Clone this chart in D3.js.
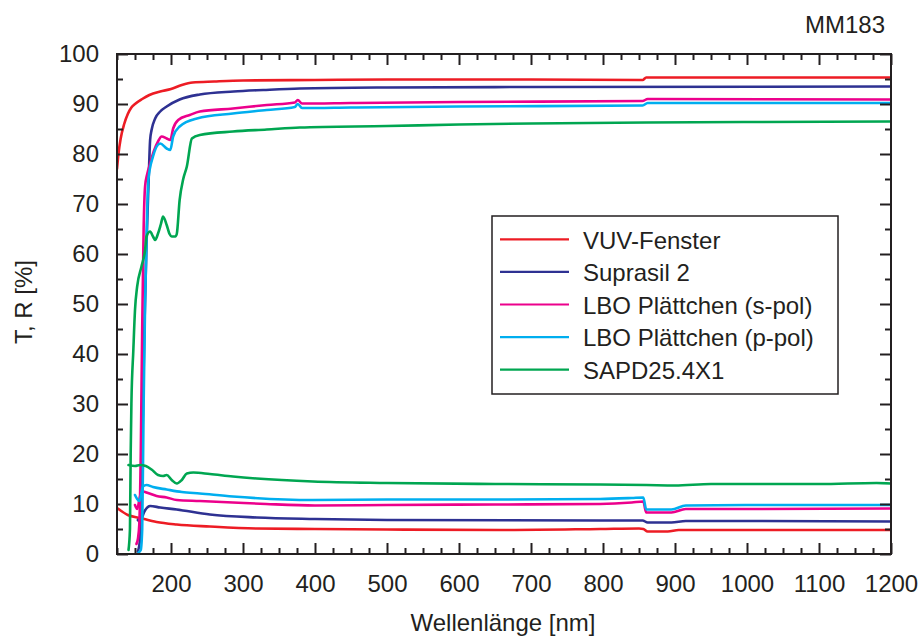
<!DOCTYPE html>
<html>
<head>
<meta charset="utf-8">
<script src="https://cdn.jsdelivr.net/npm/d3@7"></script>
<style>
  html, body { margin: 0; padding: 0; background: #fff; }
  svg { display: block; }
  text { font-family: "Liberation Sans", Arial, Helvetica, sans-serif; fill: #231f20; }
</style>
</head>
<body>
<svg id="chart" width="918" height="636"></svg>
<script>
// Spectral transmission (upper curves) and reflection (lower curves), wavelength in nm, value in %
const vuvT = [[125,77],[127,80],[130,83],[135,86],[140,88],[145,89.3],[150,90],[160,91],[170,91.8],[185,92.5],[200,93],[215,93.8],[230,94.3],[260,94.5],[300,94.7],[400,94.8],[500,94.9],[700,94.9],[855,94.8],[860,95.3],[1000,95.3],[1200,95.3]];
const vuvR = [[125,9.2],[140,7.8],[157,7.2],[180,6.4],[208,5.9],[254,5.5],[319,5.1],[400,5.0],[500,4.9],[657,4.8],[796,5.0],[850,5.1],[856,5.0],[862,4.5],[890,4.5],[905,4.8],[1000,4.8],[1200,4.8]];

const suprasilT = [[154,0.5],[157,3],[160,20],[163,45],[166,62],[169,75],[171,82.8],[173,84.8],[178,87.1],[185,88.5],[194,89.5],[212,90.9],[240,91.9],[287,92.5],[328,92.8],[379,93.1],[500,93.3],[700,93.4],[1200,93.5]];
const suprasilR = [[154,6.8],[157,6.5],[163,8.5],[171,9.6],[185,9.3],[208,8.9],[254,7.9],[319,7.3],[400,7.0],[500,6.8],[796,6.7],[855,6.7],[862,6.3],[895,6.3],[915,6.6],[1000,6.6],[1200,6.5]];

const lboST = [[152,2],[154,3],[156,6],[158,20],[160,45],[162,65],[164,73.5],[167,76],[171,78.1],[176,80.5],[182,82.5],[187,83.5],[194,83.1],[199,82.8],[203,85.1],[210,86.8],[226,87.8],[240,88.5],[286,89.1],[333,89.8],[372,90.3],[376,90.8],[382,90.1],[450,90.2],[600,90.4],[855,90.6],[862,91.0],[1200,90.9]];
const lboSR = [[150,9.8],[153,9.0],[157,11.5],[161,12.5],[168,12.2],[180,11.6],[194,11.3],[208,10.8],[240,10.6],[286,10.3],[332,10.0],[400,9.7],[500,9.8],[650,9.9],[796,10.0],[840,10.3],[856,10.5],[860,8.3],[895,8.3],[915,9.0],[1000,9.0],[1200,9.1]];

const lboPT = [[155,0.3],[158,0.8],[160,5],[162,30],[164,50],[166,63],[168.5,74.8],[175,79.5],[185,82.1],[194,81.1],[199,80.8],[203,83.5],[212,85.5],[236,87.1],[286,88.1],[333,88.8],[372,89.4],[376,90.0],[382,89.2],[450,89.3],[600,89.5],[855,89.7],[862,90.2],[1200,90.2]];
const lboPR = [[150,11.8],[153,11],[156,10.6],[158,11.5],[161,13.5],[166,13.8],[175,13.4],[194,12.9],[215,12.4],[240,12.1],[286,11.5],[397,10.8],[500,10.9],[650,10.9],[796,11.0],[840,11.2],[856,11.3],[860,8.9],[895,8.9],[915,9.7],[1000,9.8],[1200,9.8]];

const sapdT = [[141,0.8],[143,5],[144,20],[145,30],[147.7,40.8],[150,48.8],[153,53.5],[159,57.5],[164,60.8],[166,63.5],[171,64.5],[175,63.5],[178,62.8],[182,64.1],[186,66],[189,67.5],[194,65.8],[198,64],[201,63.5],[206,63.5],[208,64],[212,70.8],[217,75],[222,77.5],[229,83.1],[240,83.8],[286,84.5],[333,84.9],[379,85.3],[500,85.6],[600,85.9],[700,86.1],[860,86.3],[1000,86.4],[1200,86.5]];
const sapdR = [[141,17.8],[150,17.6],[157,17.8],[165,17.6],[173,16.9],[182,15.8],[189,15.6],[194,15.8],[201,14.8],[208,14.1],[215,14.8],[222,16.1],[231,16.3],[254,16.0],[286,15.5],[319,15.1],[397,14.5],[500,14.2],[650,14.0],[796,13.9],[860,13.8],[900,13.7],[950,14.0],[1100,14.0],[1180,14.2],[1200,14.1]];

const seriesNames = ["VUV-Fenster", "Suprasil 2", "LBO Plättchen (s-pol)", "LBO Plättchen (p-pol)", "SAPD25.4X1"];
const seriesCurves = [[vuvT, vuvR], [suprasilT, suprasilR], [lboST, lboSR], [lboPT, lboPR], [sapdT, sapdR]];

const xTickValues = [200, 300, 400, 500, 600, 700, 800, 900, 1000, 1100, 1200];
const yTickValues = [0, 10, 20, 30, 40, 50, 60, 70, 80, 90, 100];
const xMinorValues = d3.range(125, 1201, 25).filter(v => v % 100 !== 0);
const yMinorValues = d3.range(5, 100, 10);

const colors = ["#ed1c24", "#2e3192", "#ec008c", "#00aeef", "#00a651"];
const ink = "#231f20";

const svg = d3.select("#chart");
const plotLeft = 117, plotRight = 891, plotTop = 54, plotBottom = 554;

const x = d3.scaleLinear().domain([125, 1200]).range([plotLeft, plotRight]);
const y = d3.scaleLinear().domain([0, 100]).range([plotBottom, plotTop]);

svg.append("defs").append("clipPath").attr("id", "plotClip")
  .append("rect").attr("x", plotLeft).attr("y", plotTop)
  .attr("width", plotRight - plotLeft).attr("height", plotBottom - plotTop);

// Curves
const line = d3.line().x(d => x(d[0])).y(d => y(d[1])).curve(d3.curveMonotoneX);
const plot = svg.append("g").attr("clip-path", "url(#plotClip)");
seriesCurves.forEach((curves, i) => {
  curves.forEach(c => {
    plot.append("path")
      .attr("d", line(c))
      .attr("fill", "none")
      .attr("stroke", colors[i])
      .attr("stroke-width", 2.6)
      .attr("stroke-linejoin", "round")
      .attr("stroke-linecap", "round");
  });
});

// Axes with inward ticks on all four sides
function styleAxis(g) {
  g.select(".domain").remove();
  g.selectAll(".tick line").attr("stroke", ink).attr("stroke-width", 2);
  g.selectAll("text").attr("font-size", 24).attr("fill", ink)
    .style("font-family", '"Liberation Sans", Arial, Helvetica, sans-serif');
}

svg.append("g").attr("transform", `translate(0,${plotBottom})`)
  .call(d3.axisBottom(x).tickValues(xTickValues).tickSize(-11).tickPadding(21).tickFormat(d3.format("d")))
  .call(styleAxis);
svg.append("g").attr("transform", `translate(0,${plotBottom})`)
  .call(d3.axisBottom(x).tickValues(xMinorValues).tickSize(-6).tickFormat(""))
  .call(styleAxis);
svg.append("g").attr("transform", `translate(0,${plotTop})`)
  .call(d3.axisTop(x).tickValues(xTickValues).tickSize(-11).tickFormat(""))
  .call(styleAxis);
svg.append("g").attr("transform", `translate(0,${plotTop})`)
  .call(d3.axisTop(x).tickValues(xMinorValues).tickSize(-6).tickFormat(""))
  .call(styleAxis);

svg.append("g").attr("transform", `translate(${plotLeft},0)`)
  .call(d3.axisLeft(y).tickValues(yTickValues).tickSize(-11).tickPadding(18).tickFormat(d3.format("d")))
  .call(styleAxis);
svg.append("g").attr("transform", `translate(${plotLeft},0)`)
  .call(d3.axisLeft(y).tickValues(yMinorValues).tickSize(-6).tickFormat(""))
  .call(styleAxis);
svg.append("g").attr("transform", `translate(${plotRight},0)`)
  .call(d3.axisRight(y).tickValues(yTickValues).tickSize(-11).tickFormat(""))
  .call(styleAxis);
svg.append("g").attr("transform", `translate(${plotRight},0)`)
  .call(d3.axisRight(y).tickValues(yMinorValues).tickSize(-6).tickFormat(""))
  .call(styleAxis);

// Plot frame
svg.append("rect")
  .attr("x", plotLeft).attr("y", plotTop)
  .attr("width", plotRight - plotLeft).attr("height", plotBottom - plotTop)
  .attr("fill", "none").attr("stroke", ink).attr("stroke-width", 2);

// Axis titles and sample id
svg.append("text").attr("x", 503).attr("y", 631).attr("text-anchor", "middle")
  .attr("font-size", 24).text("Wellenlänge [nm]");
svg.append("text").attr("transform", "translate(32,302) rotate(-90)").attr("text-anchor", "middle")
  .attr("font-size", 24).text("T, R [%]");
svg.append("text").attr("x", 885).attr("y", 33).attr("text-anchor", "end")
  .attr("font-size", 24).text("MM183");

// Legend
const legend = svg.append("g");
legend.append("rect").attr("x", 492).attr("y", 216).attr("width", 346).attr("height", 178)
  .attr("fill", "#fff").attr("stroke", ink).attr("stroke-width", 1.5);
seriesNames.forEach((name, i) => {
  const ly = 239.3 + i * 32.6;
  legend.append("line").attr("x1", 500).attr("x2", 569).attr("y1", ly).attr("y2", ly)
    .attr("stroke", colors[i]).attr("stroke-width", 2.2);
  legend.append("text").attr("x", 583).attr("y", ly + 9.2).attr("font-size", 24).text(name);
});
</script>
</body>
</html>
